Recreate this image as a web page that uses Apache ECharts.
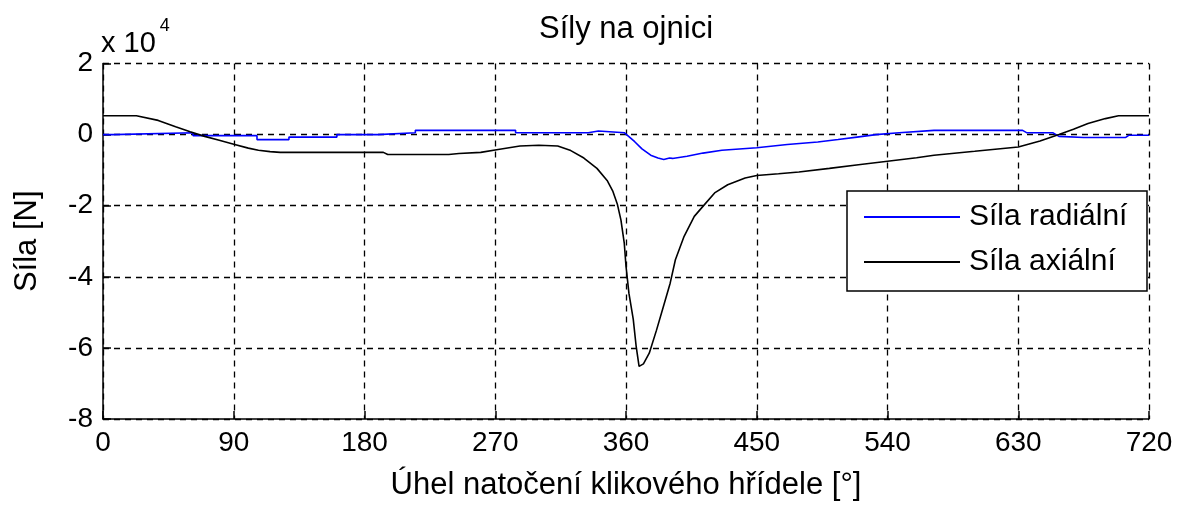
<!DOCTYPE html>
<html>
<head>
<meta charset="utf-8">
<script src="https://cdn.jsdelivr.net/npm/echarts@6/dist/echarts.min.js"></script>
<style>
html,body{margin:0;padding:0;background:#fff;}
#chart{width:1179px;height:507px;}
</style>
</head>
<body>
<div id="chart"></div>
<script>
// ---- data (angle in degrees, force in N) ----
const chartTitle = 'Síly na ojnici';
const xAxisName = 'Úhel natočení klikového hřídele [°]';
const yAxisName = 'Síla [N]';
const seriesNames = ['Síla radiální', 'Síla axiální'];
const xTicks = [0, 90, 180, 270, 360, 450, 540, 630, 720];
const yTicks = [-80000, -60000, -40000, -20000, 0, 20000];

const radialAngle = [0, 7, 7, 62, 62, 106, 106, 128, 128, 161, 161, 189, 189, 215, 215, 284, 284, 334, 334, 341, 341, 359,
  360, 366, 371, 377, 382, 386, 390, 392, 402, 413, 426, 450, 471, 492, 506, 519, 532, 548, 572, 633, 636, 654, 658, 675, 704, 706, 720];
const radialForce = [0, 0, 500, 500, -300, -300, -1400, -1400, -700, -700, 0, 0, 500, 500, 1200, 1200, 500, 500, 1000, 1000, 500, 500,
  0, -2000, -4000, -5800, -6600, -7000, -6600, -6700, -6100, -5200, -4400, -3700, -2800, -2100, -1400, -700, 0, 500, 1200, 1200, 500, 500, -500, -800, -800, -200, -200];

const axialAngle = [0, 23, 38, 50, 60, 70, 80, 90, 100, 107, 115, 122, 193, 196, 238, 245, 260, 272, 287, 300, 313, 322, 331, 340, 347, 351, 354, 356.5, 358.8,
  360, 362, 365, 367, 369, 372, 376, 381, 385.7, 390.4, 394, 400, 407, 414, 421, 430, 442, 450, 465, 479, 500, 520, 540, 560, 572, 600, 630, 645, 658, 668, 678, 690, 699, 720];
const axialForce = [5300, 5300, 4000, 2200, 800, -500, -1600, -2700, -3800, -4400, -4800, -5000, -5000, -5600, -5600, -5300, -5000, -4200, -3200, -3000, -3200, -4500, -6600, -9500, -12900, -16000, -19500, -24000, -30500,
  -37000, -44600, -52000, -59600, -65200, -64500, -61500, -55000, -48400, -41800, -35200, -28600, -23000, -19700, -16400, -14100, -12200, -11500, -11000, -10500, -9500, -8500, -7500, -6500, -5800, -4700, -3500, -1800, 0, 1500, 3100, 4500, 5300, 5300];

const radialData = radialAngle.map((a, i) => [a, radialForce[i]]);
const axialData = axialAngle.map((a, i) => [a, axialForce[i]]);

const FONT = 'Liberation Sans';
const chart = echarts.init(document.getElementById('chart'), null, {renderer: 'canvas'});
chart.setOption({
  backgroundColor: '#ffffff',
  animation: false,
  title: {
    text: chartTitle,
    left: 621, top: 9, textAlign: 'center',
    textStyle: {fontFamily: FONT, fontSize: 31, fontWeight: 'normal', color: '#000'}
  },
  grid: {left: 103, right: 30, top: 63.5, bottom: 88, containLabel: false},
  xAxis: {
    type: 'value', min: 0, max: 720, interval: 90,
    name: xAxisName, nameLocation: 'middle', nameGap: 51,
    nameTextStyle: {fontFamily: FONT, fontSize: 31, color: '#000'},
    axisLine: {show: true, onZero: false, lineStyle: {color: '#000', width: 1.5}},
    axisTick: {show: true, inside: true, length: 8, lineStyle: {color: '#000', width: 1.5}},
    axisLabel: {fontFamily: FONT, fontSize: 28, color: '#000', margin: 10,
      customValues: xTicks},
    splitLine: {show: true, lineStyle: {color: '#000', type: [6, 5], width: 1.3}}
  },
  yAxis: {
    type: 'value', min: -80000, max: 20000, interval: 20000,
    name: yAxisName, nameLocation: 'middle', nameGap: 60, nameRotate: 90,
    nameTextStyle: {fontFamily: FONT, fontSize: 31, color: '#000'},
    axisLine: {show: true, lineStyle: {color: '#000', width: 1.5}},
    axisTick: {show: true, inside: true, length: 8, lineStyle: {color: '#000', width: 1.5}},
    axisLabel: {fontFamily: FONT, fontSize: 28, color: '#000', margin: 10,
      formatter: v => String(v / 10000)},
    splitLine: {show: true, lineStyle: {color: '#000', type: [6, 5], width: 1.3}}
  },
  legend: {
    orient: 'vertical',
    left: 864, top: 202,
    padding: 0,
    icon: 'rect',
    itemWidth: 96, itemHeight: 2, itemGap: 15,
    z: 20,
    textStyle: {fontFamily: FONT, fontSize: 30, color: '#000', padding: [0, 0, 0, 4]},
    data: seriesNames
  },
  graphic: [
    {type: 'rect', z: 15, shape: {x: 847, y: 191, width: 300, height: 100},
      style: {fill: '#fff', stroke: '#000', lineWidth: 1.5}},
    {type: 'text', z: 15, left: 101, top: 17,
      style: {
        text: '{a|x 10}{b|4}',
        rich: {
          a: {fontFamily: FONT, fontSize: 29, fill: '#000', padding: [12, 0, 0, 0]},
          b: {fontFamily: FONT, fontSize: 18, fill: '#000', verticalAlign: 'top', padding: [0, 0, 14, 4]}
        }
      }}
  ],
  series: [
    {name: seriesNames[0], type: 'line', data: radialData, symbol: 'none', z: 5,
      lineStyle: {color: '#0000ff', width: 1.6}, itemStyle: {color: '#0000ff'}},
    {name: seriesNames[1], type: 'line', data: axialData, symbol: 'none', z: 5,
      lineStyle: {color: '#000000', width: 1.6}, itemStyle: {color: '#000000'}}
  ]
});
</script>
</body>
</html>
